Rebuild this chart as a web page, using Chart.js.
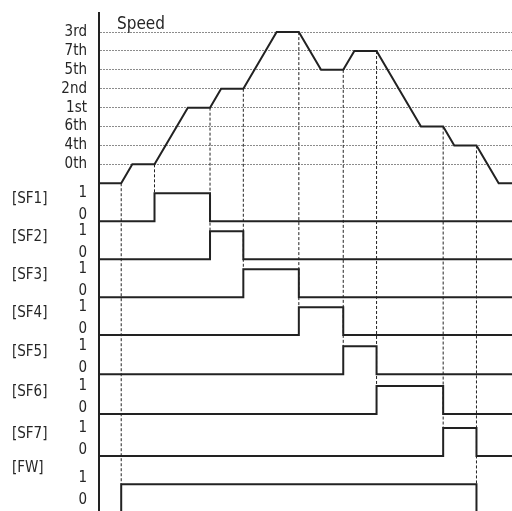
<!DOCTYPE html>
<html>
<head>
<meta charset="utf-8">
<script src="https://cdn.jsdelivr.net/npm/chart.js@4.4.1/dist/chart.umd.min.js"></script>
<style>
  html, body { margin: 0; padding: 0; background: #fff; }
  canvas { display: block; }
</style>
</head>
<body>
<canvas id="chart" width="512" height="511"></canvas>
<script>
// speed profile: time (arbitrary units) and speed step reached
const speedTime  = [2, 3, 5, 8, 10, 11, 13, 16, 18, 20, 22, 23, 25, 29, 31, 32, 34, 36];
const speedLevel = [0, 1, 1, 4, 4, 5, 5, 8, 8, 6, 6, 7, 7, 3, 3, 2, 2, 0];
const levelLabels = ['0th', '4th', '6th', '1st', '2nd', '5th', '7th', '3rd'];

// input terminals, switch on / switch off times
const signalNames = ['[SF1]', '[SF2]', '[SF3]', '[SF4]', '[SF5]', '[SF6]', '[SF7]', '[FW]'];
const signalOn  = [5, 10, 13, 18, 22, 25, 31, 2];
const signalOff = [10, 13, 18, 22, 25, 31, 34, 34];
const stateLabels = ['0', '1'];
const title = 'Speed';

// layout (y in speed-step units, rows stacked below the speed plot)
const xMax = 37.2;
const yMax = 9.01, yMin = -17.35;
const pulseH = 1.48;
const rowBase = [-2.01, -4.02, -6.03, -8.04, -10.11, -12.22, -14.44, -17.41];
const rowText = [-2.01, -4.02, -6.03, -8.04, -10.11, -12.22, -14.44, -17.1];

const fontFamily = "'Liberation Sans Narrow', 'DejaVu Sans Condensed', 'Arial Narrow', sans-serif";
const ink = '#222';
const textColor = '#262626';

// tick lists for the two left axes
const valueTicks = [];
levelLabels.forEach((l, i) => valueTicks.push({ value: i + 1, label: l, grid: true }));
rowText.forEach(b => {
    valueTicks.push({ value: b + pulseH, label: stateLabels[1] });
    valueTicks.push({ value: b + 0.3, label: stateLabels[0] });
});
const nameTicks = signalNames.map((n, i) => ({
    value: rowText[i] + (i === signalNames.length - 1 ? 2.0 : 1.16),
    label: n
}));

// datasets
const datasets = [];

// speed curve, sits on its own base line
const speedPoints = [{ x: 0, y: 0 }];
speedTime.forEach((t, i) => speedPoints.push({ x: t, y: speedLevel[i] }));
speedPoints.push({ x: xMax, y: 0 });
datasets.push({ data: speedPoints, borderColor: ink, borderWidth: 2 });

// on/off pulses
signalNames.forEach((n, i) => {
    const base = rowBase[i], top = base + pulseH;
    datasets.push({
        data: [
            { x: 0, y: base },
            { x: signalOn[i], y: top },
            { x: signalOff[i], y: base },
            { x: xMax, y: base }
        ],
        stepped: 'before',
        borderColor: ink,
        borderWidth: 2
    });
});

// dotted guides from the speed curve down to the switching edge
const edgeTimes = [...new Set(signalOn.concat(signalOff))];
edgeTimes.forEach(t => {
    let bottom = Infinity;
    signalNames.forEach((n, i) => {
        if (signalOn[i] === t || signalOff[i] === t) bottom = Math.min(bottom, rowBase[i] + pulseH);
    });
    const top = speedLevel[speedTime.indexOf(t)];
    datasets.push({
        data: [{ x: t, y: top }, { x: t, y: bottom }],
        borderColor: ink,
        borderWidth: 1,
        borderDash: [3, 2]
    });
});

const speedTitle = {
    id: 'speedTitle',
    afterDraw(chart) {
        const { ctx, chartArea } = chart;
        ctx.save();
        ctx.font = '17px ' + fontFamily;
        ctx.fillStyle = textColor;
        ctx.textBaseline = 'alphabetic';
        ctx.fillText(title, chartArea.left + 18, chartArea.top + 15.5);
        ctx.restore();
    }
};

// keep the labels from shrinking the plot
function fitAxis(width) {
    return scale => {
        scale.width = width;
        scale.paddingTop = 0;
        scale.paddingBottom = 0;
    };
}

Chart.defaults.font.family = fontFamily;
Chart.defaults.font.size = 15;
Chart.defaults.color = textColor;

new Chart(document.getElementById('chart'), {
    type: 'line',
    data: { datasets: datasets },
    options: {
        responsive: false,
        animation: false,
        events: [],
        layout: { padding: { left: 12, top: 13, right: 0, bottom: 0 } },
        elements: {
            point: { radius: 0 },
            line: { tension: 0, fill: false, borderJoinStyle: 'miter' }
        },
        plugins: { legend: { display: false }, tooltip: { enabled: false } },
        scales: {
            x: { type: 'linear', min: 0, max: xMax, display: false },
            y: {
                type: 'linear',
                position: 'left',
                weight: 0,
                min: yMin,
                max: yMax,
                afterBuildTicks: scale => { scale.ticks = valueTicks.map(t => ({ value: t.value })); },
                afterFit: fitAxis(44),
                ticks: {
                    autoSkip: false,
                    padding: 12,
                    callback: (v, i) => valueTicks[i].label
                },
                grid: {
                    drawTicks: false,
                    lineWidth: 1,
                    color: c => (valueTicks[c.index] && valueTicks[c.index].grid) ? '#8c8c8c' : 'rgba(0,0,0,0)'
                },
                border: { display: true, color: ink, width: 2, dash: [2, 1] }
            },
            names: {
                type: 'linear',
                position: 'left',
                weight: 1,
                min: yMin,
                max: yMax,
                afterBuildTicks: scale => { scale.ticks = nameTicks.map(t => ({ value: t.value })); },
                afterFit: fitAxis(43),
                ticks: {
                    autoSkip: false,
                    crossAlign: 'far',
                    callback: (v, i) => nameTicks[i].label
                },
                grid: { display: false, drawTicks: false },
                border: { display: false }
            }
        }
    },
    plugins: [speedTitle]
});
</script>
</body>
</html>
